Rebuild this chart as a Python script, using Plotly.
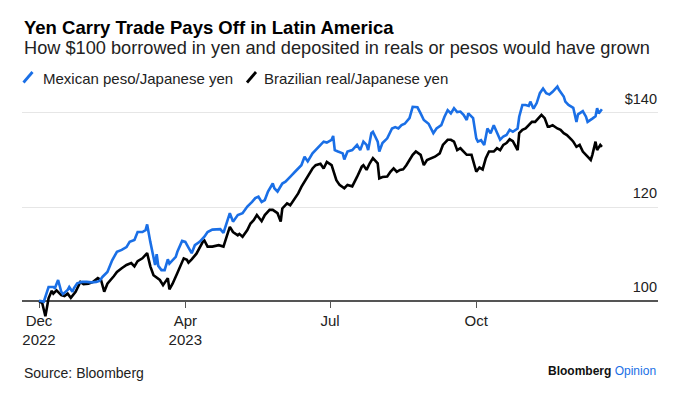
import plotly.graph_objects as go

# ---------------- data ----------------
mxn_dates = [
    "2022-12-30", "2023-01-02", "2023-01-05", "2023-01-08", "2023-01-09", "2023-01-11",
    "2023-01-13", "2023-01-14", "2023-01-17", "2023-01-18", "2023-01-20", "2023-01-21",
    "2023-01-23", "2023-01-26", "2023-01-29", "2023-02-01", "2023-02-04", "2023-02-06",
    "2023-02-08", "2023-02-11", "2023-02-14", "2023-02-17", "2023-02-20", "2023-02-23",
    "2023-02-25", "2023-02-28", "2023-03-02", "2023-03-05", "2023-03-07", "2023-03-08",
    "2023-03-10", "2023-03-12", "2023-03-13", "2023-03-14", "2023-03-15", "2023-03-17",
    "2023-03-19", "2023-03-21", "2023-03-22", "2023-03-26", "2023-03-27", "2023-03-30",
    "2023-04-01", "2023-04-03", "2023-04-05", "2023-04-07", "2023-04-10", "2023-04-13",
    "2023-04-15", "2023-04-18", "2023-04-23", "2023-04-25", "2023-04-27", "2023-04-29",
    "2023-05-01", "2023-05-04", "2023-05-07", "2023-05-10", "2023-05-13", "2023-05-15",
    "2023-05-17", "2023-05-19", "2023-05-21", "2023-05-23", "2023-05-26", "2023-05-27",
    "2023-05-29", "2023-06-01", "2023-06-03", "2023-06-05", "2023-06-07", "2023-06-09",
    "2023-06-11", "2023-06-13", "2023-06-15", "2023-06-17", "2023-06-20", "2023-06-22",
    "2023-06-24", "2023-06-27", "2023-06-29", "2023-07-02", "2023-07-03", "2023-07-04",
    "2023-07-06", "2023-07-09", "2023-07-10", "2023-07-12", "2023-07-15", "2023-07-18",
    "2023-07-20", "2023-07-22", "2023-07-24", "2023-07-25", "2023-07-27", "2023-07-28",
    "2023-07-31", "2023-08-01", "2023-08-03", "2023-08-06", "2023-08-09", "2023-08-11",
    "2023-08-13", "2023-08-15", "2023-08-17", "2023-08-20", "2023-08-22", "2023-08-25",
    "2023-08-27", "2023-08-29", "2023-09-01", "2023-09-04", "2023-09-06", "2023-09-09",
    "2023-09-11", "2023-09-13", "2023-09-15", "2023-09-17", "2023-09-19", "2023-09-21",
    "2023-09-23", "2023-09-25", "2023-09-26", "2023-09-29", "2023-10-01", "2023-10-02",
    "2023-10-04", "2023-10-06", "2023-10-08", "2023-10-10", "2023-10-12", "2023-10-14",
    "2023-10-16", "2023-10-18", "2023-10-20", "2023-10-22", "2023-10-24", "2023-10-27",
    "2023-10-28", "2023-10-30", "2023-11-01", "2023-11-03", "2023-11-04", "2023-11-06",
    "2023-11-08", "2023-11-10", "2023-11-12", "2023-11-14", "2023-11-16", "2023-11-18",
    "2023-11-21", "2023-11-22", "2023-11-25", "2023-11-26", "2023-11-28", "2023-12-01",
    "2023-12-03", "2023-12-04", "2023-12-07", "2023-12-09", "2023-12-10", "2023-12-13",
    "2023-12-15", "2023-12-16", "2023-12-17", "2023-12-19",
]
mxn_values = [
    100.1, 99.9, 103.0, 103.0, 102.8, 104.5,
    102.0, 101.5, 102.4, 103.0, 102.0, 102.8,
    103.8, 104.1, 104.1, 104.0, 104.1, 104.3,
    105.2, 106.2, 108.7, 110.5, 110.9, 111.5,
    112.6, 113.0, 114.7, 114.7, 115.1, 116.3,
    112.6, 109.4, 107.7, 110.0, 107.5, 106.6,
    106.6, 108.9, 108.0, 109.4, 110.5, 112.8,
    112.6, 111.4, 110.2, 111.9, 112.6, 113.7,
    114.7, 115.2, 115.3, 114.5, 116.6, 118.7,
    116.9, 118.3, 118.7, 120.1, 121.1, 121.9,
    122.2, 121.1, 121.5, 123.3, 125.0, 124.0,
    123.3, 125.0, 125.4, 126.0, 126.8, 127.5,
    128.2, 128.9, 130.7, 129.7, 131.4, 132.1,
    132.8, 133.9, 133.7, 134.3, 135.1, 132.1,
    131.8, 131.4, 130.1, 131.8, 132.1, 133.2,
    132.1, 133.9, 133.2, 132.1, 135.7, 136.0,
    133.9, 131.8, 133.6, 134.6, 136.7, 137.0,
    136.7, 137.4, 137.7, 138.9, 141.3, 141.2,
    139.9, 138.5, 137.7, 135.7, 136.7, 137.4,
    139.2, 140.6, 139.9, 141.0, 140.2, 140.3,
    139.6, 138.5, 139.9, 138.9, 134.6, 133.9,
    134.2, 133.2, 136.7, 135.7, 137.4, 136.0,
    134.3, 135.0, 135.3, 136.4, 136.0, 136.7,
    139.2, 141.7, 141.7, 141.5, 142.4, 140.9,
    142.1, 144.2, 145.2, 144.2, 143.9, 144.5,
    145.6, 144.9, 143.5, 142.4, 141.7, 141.1,
    138.1, 139.7, 140.4, 139.2, 138.1, 138.8,
    139.3, 141.0, 139.9, 140.8,
]

brl_dates = [
    "2022-12-30", "2023-01-01", "2023-01-03", "2023-01-05", "2023-01-07", "2023-01-08",
    "2023-01-10", "2023-01-13", "2023-01-15", "2023-01-17", "2023-01-19", "2023-01-22",
    "2023-01-25", "2023-01-27", "2023-01-30", "2023-02-02", "2023-02-05", "2023-02-07",
    "2023-02-09", "2023-02-11", "2023-02-15", "2023-02-17", "2023-02-20", "2023-02-23",
    "2023-02-26", "2023-02-28", "2023-03-02", "2023-03-05", "2023-03-08", "2023-03-10",
    "2023-03-12", "2023-03-14", "2023-03-16", "2023-03-18", "2023-03-21", "2023-03-22",
    "2023-03-24", "2023-03-27", "2023-03-31", "2023-04-02", "2023-04-03", "2023-04-05",
    "2023-04-08", "2023-04-12", "2023-04-13", "2023-04-15", "2023-04-18", "2023-04-22",
    "2023-04-25", "2023-04-27", "2023-04-29", "2023-05-01", "2023-05-04", "2023-05-05",
    "2023-05-07", "2023-05-10", "2023-05-12", "2023-05-14", "2023-05-16", "2023-05-19",
    "2023-05-21", "2023-05-24", "2023-05-26", "2023-05-29", "2023-05-31", "2023-06-01",
    "2023-06-04", "2023-06-06", "2023-06-09", "2023-06-11", "2023-06-13", "2023-06-15",
    "2023-06-17", "2023-06-20", "2023-06-22", "2023-06-25", "2023-06-27", "2023-06-29",
    "2023-07-02", "2023-07-04", "2023-07-05", "2023-07-07", "2023-07-10", "2023-07-12",
    "2023-07-15", "2023-07-18", "2023-07-21", "2023-07-22", "2023-07-24", "2023-07-26",
    "2023-07-28", "2023-07-31", "2023-08-01", "2023-08-03", "2023-08-06", "2023-08-08",
    "2023-08-10", "2023-08-12", "2023-08-14", "2023-08-16", "2023-08-18", "2023-08-22",
    "2023-08-24", "2023-08-27", "2023-08-29", "2023-08-31", "2023-09-03", "2023-09-05",
    "2023-09-08", "2023-09-10", "2023-09-13", "2023-09-15", "2023-09-17", "2023-09-19",
    "2023-09-21", "2023-09-23", "2023-09-25", "2023-09-28", "2023-09-30", "2023-10-01",
    "2023-10-03", "2023-10-05", "2023-10-07", "2023-10-09", "2023-10-12", "2023-10-14",
    "2023-10-16", "2023-10-18", "2023-10-20", "2023-10-22", "2023-10-24", "2023-10-27",
    "2023-10-28", "2023-10-30", "2023-11-01", "2023-11-03", "2023-11-05", "2023-11-07",
    "2023-11-09", "2023-11-11", "2023-11-13", "2023-11-15", "2023-11-16", "2023-11-18",
    "2023-11-21", "2023-11-23", "2023-11-25", "2023-11-27", "2023-11-30", "2023-12-01",
    "2023-12-03", "2023-12-05", "2023-12-07", "2023-12-10", "2023-12-12", "2023-12-13",
    "2023-12-15", "2023-12-16", "2023-12-18", "2023-12-19",
]
brl_values = [
    100.0, 99.6, 96.8, 100.6, 102.2, 101.6,
    102.3, 101.3, 101.1, 101.6, 100.7, 102.0,
    104.1, 103.6, 103.7, 104.1, 104.9, 104.5,
    102.0, 103.7, 105.3, 106.2, 107.0, 107.7,
    108.1, 107.4, 108.5, 109.1, 110.2, 107.4,
    105.5, 104.9, 104.5, 103.4, 104.9, 102.5,
    103.7, 106.0, 109.1, 108.8, 108.2, 108.9,
    110.1, 112.6, 112.9, 111.6, 111.6, 111.9,
    111.6, 113.7, 115.8, 114.7, 114.0, 114.3,
    113.7, 115.1, 116.5, 117.2, 118.3, 117.0,
    118.3, 119.4, 119.4, 118.7, 116.9, 119.7,
    120.8, 120.4, 121.8, 122.9, 124.3, 125.4,
    126.8, 128.2, 128.9, 129.2, 128.2, 129.6,
    128.9, 126.8, 125.7, 124.7, 124.0, 124.7,
    124.4, 126.4, 128.6, 128.9, 127.9, 129.3,
    130.4, 129.3, 126.1, 126.4, 126.5, 127.5,
    128.2, 127.5, 127.9, 128.0, 128.9, 131.1,
    131.8, 131.1, 128.9, 130.0, 130.4, 130.7,
    131.4, 133.2, 134.3, 134.3, 133.9, 132.1,
    132.5, 131.8, 131.1, 131.1, 128.6, 127.5,
    128.4, 128.0, 130.4, 131.8, 131.8, 132.5,
    132.1, 133.2, 133.6, 134.4, 134.0, 132.1,
    135.7, 136.4, 136.7, 137.4, 138.1, 138.1,
    138.9, 139.6, 138.9, 137.1, 137.1, 137.4,
    136.7, 136.4, 135.7, 135.3, 134.3, 133.9,
    132.8, 133.2, 131.8, 130.7, 130.0, 131.1,
    133.9, 132.1, 133.2, 132.8,
]

series_names = ["Mexican peso/Japanese yen", "Brazilian real/Japanese yen"]

x_tick_dates = ["2022-12-30", "2023-04-01", "2023-07-01", "2023-10-01"]
x_tick_labels = ["Dec<br>2022", "Apr<br>2023", "Jul", "Oct"]
y_tick_values = [100, 120, 140]
y_tick_labels = ["100", "120", "$140"]

title_text = "Yen Carry Trade Pays Off in Latin America"
subtitle_text = "How $100 borrowed in yen and deposited in reals or pesos would have grown"
source_text = "Source: Bloomberg"

# ---------------- style ----------------
BLUE = "#1a6fe6"
BLACK = "#000000"
FONT = "Liberation Sans, Arial, sans-serif"
W, H = 681, 395
M_L, M_R, M_T, M_B = 22, 23, 80, 75
PW, PH = W - M_L - M_R, H - M_T - M_B
Y_RANGE = [96, 147]
X_RANGE = ["2022-12-19 07:00", "2024-01-23 07:00"]


def px_x(px):
    return (px - M_L) / PW


def px_y(py):
    return (H - M_B - py) / PH


fig = go.Figure()
fig.add_trace(go.Scatter(x=brl_dates, y=brl_values, mode="lines", name=series_names[1],
                         line=dict(color=BLACK, width=2.6), showlegend=False))
fig.add_trace(go.Scatter(x=mxn_dates, y=mxn_values, mode="lines", name=series_names[0],
                         line=dict(color=BLUE, width=2.6), showlegend=False))

baseline_pos = (100 - Y_RANGE[0]) / (Y_RANGE[1] - Y_RANGE[0])

fig.update_layout(
    width=W, height=H,
    margin=dict(l=M_L, r=M_R, t=M_T, b=M_B, pad=0, autoexpand=False),
    paper_bgcolor="white", plot_bgcolor="white",
    font=dict(family=FONT, color="#222222", size=15),
    xaxis=dict(
        type="date", range=X_RANGE, anchor="free", position=baseline_pos,
        tickmode="array", tickvals=x_tick_dates, ticktext=x_tick_labels,
        showgrid=False, zeroline=False,
        showline=True, linecolor="#555555", linewidth=1.5,
        ticks="outside", ticklen=6, tickcolor="#555555", tickwidth=1,
        tickfont=dict(size=15, color="#222222"),
        layer="below traces",
    ),
    yaxis=dict(
        range=Y_RANGE, side="right",
        tickmode="array", tickvals=y_tick_values, ticktext=y_tick_labels,
        showgrid=True, gridcolor="#e6e6e6", gridwidth=1,
        zeroline=False, showline=False, ticks="",
        ticklabelposition="inside", ticklabelshift=-14, ticklabelstandoff=-2,
        tickfont=dict(size=14.5, color="#222222"),
    ),
    annotations=[
        dict(text="<b>" + title_text + "</b>", xref="paper", yref="paper",
             x=0, y=px_y(27.5), xanchor="left", yanchor="middle", showarrow=False,
             font=dict(size=18.5, color="#000000")),
        dict(text=subtitle_text, xref="paper", yref="paper",
             x=0, y=px_y(48.5), xanchor="left", yanchor="middle", showarrow=False,
             font=dict(size=18.2, color="#222222")),
        dict(text=series_names[0], xref="paper", yref="paper",
             x=px_x(41), y=px_y(78), xanchor="left", yanchor="middle", showarrow=False,
             font=dict(size=15, color="#222222")),
        dict(text=series_names[1], xref="paper", yref="paper",
             x=px_x(262), y=px_y(78), xanchor="left", yanchor="middle", showarrow=False,
             font=dict(size=15, color="#222222")),
        dict(text=source_text, xref="paper", yref="paper",
             x=0, y=px_y(373), xanchor="left", yanchor="middle", showarrow=False,
             font=dict(size=14, color="#222222")),
        dict(text="<b>Bloomberg</b> <span style='color:" + BLUE + "'>Opinion</span>",
             xref="paper", yref="paper",
             x=1, y=px_y(371), xanchor="right", yanchor="middle", showarrow=False,
             font=dict(size=12, color="#111111")),
    ],
    shapes=[
        dict(type="line", xref="paper", yref="paper",
             x0=px_x(23.5), y0=px_y(82.5), x1=px_x(32.5), y1=px_y(72),
             line=dict(color=BLUE, width=2.8)),
        dict(type="line", xref="paper", yref="paper",
             x0=px_x(247), y0=px_y(82.5), x1=px_x(256), y1=px_y(72),
             line=dict(color=BLACK, width=2.8)),
    ],
)

fig.write_html("out.html", config={"displayModeBar": False},
               post_script="document.body.style.margin='0';")
